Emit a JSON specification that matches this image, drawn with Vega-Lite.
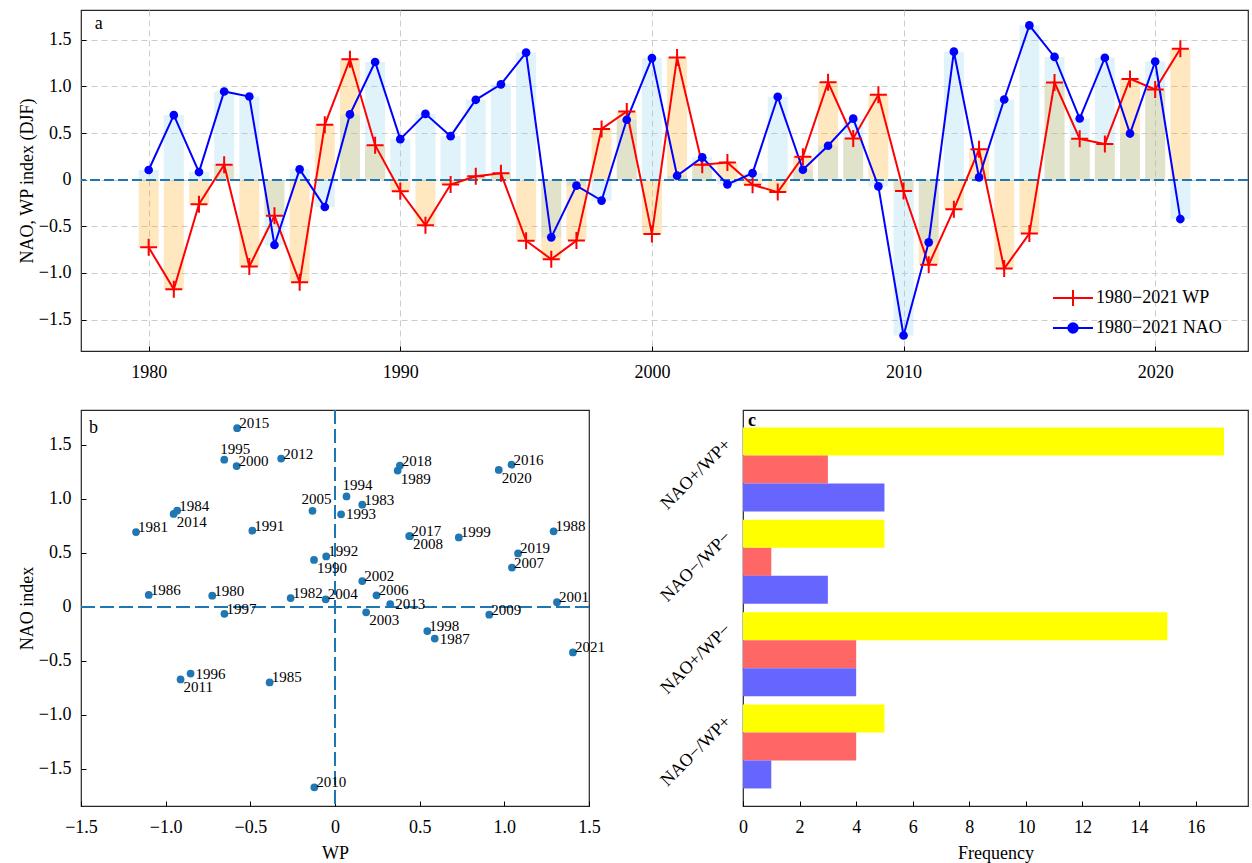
{
  "$schema": "https://vega.github.io/schema/vega-lite/v6.json",
  "background": "white",
  "padding": {"left": 17, "top": 9, "right": 0, "bottom": 0},
  "bounds": "flush",
  "spacing": 59,
  "resolve": {"scale": {"color": "independent"}, "legend": {"color": "independent"}},
  "config": {
    "font": "Liberation Serif",
    "view": {"stroke": "#262626", "strokeWidth": 1.2},
    "axis": {
      "domain": false, "grid": false, "tickSize": -5, "tickColor": "#000", "tickWidth": 1,
      "labelColor": "#000", "labelFontSize": 18, "titleFontSize": 18, "titleFontWeight": "normal",
      "titleColor": "#000", "labelPadding": 17, "labelFlush": false, "labelOverlap": false
    },
    "axisY": {"labelPadding": 15, "titlePadding": 2}
  },
  "datasets": {
    "idx": [
      {"year": 1980, "wp": -0.725, "nao": 0.104, "side": "r"},
      {"year": 1981, "wp": -1.175, "nao": 0.693, "side": "r"},
      {"year": 1982, "wp": -0.262, "nao": 0.082, "side": "r"},
      {"year": 1983, "wp": 0.161, "nao": 0.946, "side": "r"},
      {"year": 1984, "wp": -0.932, "nao": 0.892, "side": "r"},
      {"year": 1985, "wp": -0.386, "nao": -0.700, "side": "r"},
      {"year": 1986, "wp": -1.100, "nao": 0.111, "side": "r"},
      {"year": 1987, "wp": 0.589, "nao": -0.293, "side": "m"},
      {"year": 1988, "wp": 1.291, "nao": 0.700, "side": "r"},
      {"year": 1989, "wp": 0.370, "nao": 1.262, "side": "b"},
      {"year": 1990, "wp": -0.124, "nao": 0.435, "side": "b"},
      {"year": 1991, "wp": -0.488, "nao": 0.706, "side": "r"},
      {"year": 1992, "wp": -0.052, "nao": 0.467, "side": "r"},
      {"year": 1993, "wp": 0.036, "nao": 0.857, "side": "m"},
      {"year": 1994, "wp": 0.068, "nao": 1.023, "side": "a"},
      {"year": 1995, "wp": -0.654, "nao": 1.363, "side": "a"},
      {"year": 1996, "wp": -0.853, "nao": -0.618, "side": "m"},
      {"year": 1997, "wp": -0.653, "nao": -0.064, "side": "r"},
      {"year": 1998, "wp": 0.545, "nao": -0.224, "side": "r"},
      {"year": 1999, "wp": 0.731, "nao": 0.643, "side": "r"},
      {"year": 2000, "wp": -0.581, "nao": 1.304, "side": "r"},
      {"year": 2001, "wp": 1.311, "nao": 0.043, "side": "r"},
      {"year": 2002, "wp": 0.161, "nao": 0.239, "side": "r"},
      {"year": 2003, "wp": 0.184, "nao": -0.050, "side": "b"},
      {"year": 2004, "wp": -0.055, "nao": 0.070, "side": "r"},
      {"year": 2005, "wp": -0.133, "nao": 0.889, "side": "al"},
      {"year": 2006, "wp": 0.245, "nao": 0.107, "side": "r"},
      {"year": 2007, "wp": 1.045, "nao": 0.364, "side": "r"},
      {"year": 2008, "wp": 0.443, "nao": 0.655, "side": "b"},
      {"year": 2009, "wp": 0.911, "nao": -0.072, "side": "r"},
      {"year": 2010, "wp": -0.122, "nao": -1.671, "side": "r"},
      {"year": 2011, "wp": -0.912, "nao": -0.672, "side": "b"},
      {"year": 2012, "wp": -0.318, "nao": 1.373, "side": "r"},
      {"year": 2013, "wp": 0.326, "nao": 0.025, "side": "m"},
      {"year": 2014, "wp": -0.953, "nao": 0.860, "side": "b"},
      {"year": 2015, "wp": -0.578, "nao": 1.655, "side": "r"},
      {"year": 2016, "wp": 1.042, "nao": 1.317, "side": "r"},
      {"year": 2017, "wp": 0.438, "nao": 0.656, "side": "r"},
      {"year": 2018, "wp": 0.383, "nao": 1.308, "side": "r"},
      {"year": 2019, "wp": 1.081, "nao": 0.495, "side": "r"},
      {"year": 2020, "wp": 0.967, "nao": 1.268, "side": "b"},
      {"year": 2021, "wp": 1.405, "nao": -0.422, "side": "r"}
    ],
    "freq": [
      {"cat": "NAO+/WP+", "grp": "g1", "freq": 17},
      {"cat": "NAO+/WP+", "grp": "g2", "freq": 3},
      {"cat": "NAO+/WP+", "grp": "g3", "freq": 5},
      {"cat": "NAO−/WP−", "grp": "g1", "freq": 5},
      {"cat": "NAO−/WP−", "grp": "g2", "freq": 1},
      {"cat": "NAO−/WP−", "grp": "g3", "freq": 3},
      {"cat": "NAO+/WP−", "grp": "g1", "freq": 15},
      {"cat": "NAO+/WP−", "grp": "g2", "freq": 4},
      {"cat": "NAO+/WP−", "grp": "g3", "freq": 4},
      {"cat": "NAO−/WP+", "grp": "g1", "freq": 5},
      {"cat": "NAO−/WP+", "grp": "g2", "freq": 4},
      {"cat": "NAO−/WP+", "grp": "g3", "freq": 1}
    ],
    "one": [{"panel": "label"}]
  },
  "vconcat": [
    {
      "width": 1167,
      "height": 341,
      "data": {"name": "idx"},
      "layer": [
        {
          "mark": {"type": "bar", "orient": "vertical", "size": 20, "color": "#ffa500", "opacity": 0.25},
          "encoding": {
            "x": {"field": "year", "type": "quantitative", "title": null,
                  "scale": {"domain": [1977.51, 2023.49], "nice": false, "zero": false},
                  "axis": {"values": [1980, 1990, 2000, 2010, 2020], "format": "d", "grid": true, "gridDash": [6, 4], "gridColor": "#cccccc"}},
            "y": {"field": "wp", "type": "quantitative", "title": "NAO, WP index (DJF)",
                  "scale": {"domain": [-1.837, 1.82], "nice": false},
                  "axis": {"values": [-1.5, -1, -0.5, 0, 0.5, 1, 1.5], "labelExpr": "datum.value == 0 ? '0' : format(datum.value, '.1f')", "grid": true, "gridDash": [6, 4], "gridColor": "#cccccc"}}
          }
        },
        {
          "mark": {"type": "bar", "orient": "vertical", "size": 20, "color": "#87ceeb", "opacity": 0.25},
          "encoding": {
            "x": {"field": "year", "type": "quantitative", "title": null},
            "y": {"field": "nao", "type": "quantitative", "title": "NAO, WP index (DJF)"}
          }
        },
        {
          "mark": {"type": "rule", "color": "#1f77b4", "strokeDash": [10, 4], "strokeWidth": 1.3},
          "encoding": {"y": {"datum": 0}}
        },
        {
          "transform": [{"fold": ["wp", "nao"], "as": ["series", "value"]}],
          "mark": {"type": "line", "strokeWidth": 2},
          "encoding": {
            "x": {"field": "year", "type": "quantitative", "title": null},
            "y": {"field": "value", "type": "quantitative", "title": "NAO, WP index (DJF)"},
            "color": {
              "field": "series", "type": "nominal",
              "scale": {"domain": ["wp", "nao"], "range": ["#ff0000", "#0000ff"]},
              "legend": {
                "orient": "none", "legendX": 981, "legendY": 277, "title": null, "padding": 0,
                "labelExpr": "'1980−2021 ' + (datum.value == 'wp' ? 'WP' : 'NAO')",
                "labelFontSize": 18, "labelColor": "#000", "symbolSize": 400, "rowPadding": 7, "labelOffset": 12,
                "encode": {
                  "symbols": {
                    "update": {
                      "shape": {"signal": "datum.value === 'wp' ? 'M-2,0L2,0M0,-0.8L0,0.8' : 'M-2,0L2,0M0.47,0A0.47,0.47 0 1,1 -0.47,0A0.47,0.47 0 1,1 0.47,0Z'"},
                      "fill": {"signal": "datum.value === 'wp' ? 'transparent' : '#0000ff'"},
                      "stroke": {"signal": "datum.value === 'wp' ? '#ff0000' : '#0000ff'"},
                      "strokeWidth": {"value": 2},
                      "opacity": {"value": 1}
                    }
                  }
                }
              }
            }
          }
        },
        {
          "mark": {"type": "point", "shape": "M-1,0L1,0M0,-1L0,1", "size": 289, "filled": false, "color": "#ff0000", "strokeWidth": 2, "opacity": 1},
          "encoding": {
            "x": {"field": "year", "type": "quantitative", "title": null},
            "y": {"field": "wp", "type": "quantitative", "title": "NAO, WP index (DJF)"}
          }
        },
        {
          "mark": {"type": "point", "shape": "circle", "size": 75, "filled": true, "color": "#0000ff", "opacity": 1},
          "encoding": {
            "x": {"field": "year", "type": "quantitative", "title": null},
            "y": {"field": "nao", "type": "quantitative", "title": "NAO, WP index (DJF)"}
          }
        },
        {
          "data": {"name": "one"},
          "mark": {"type": "text", "text": "a", "align": "left", "baseline": "alphabetic", "fontSize": 18, "color": "#000"},
          "encoding": {
            "x": {"datum": 1977.86, "type": "quantitative"},
            "y": {"datum": 1.611, "type": "quantitative"}
          }
        }
      ]
    },
    {
      "hconcat": [
        {
          "width": 508,
          "height": 396,
          "data": {"name": "idx"},
          "layer": [
            {
              "mark": {"type": "rule", "color": "#1f77b4", "strokeDash": [14, 5], "strokeWidth": 1.5},
              "encoding": {"x": {"datum": 0, "type": "quantitative"}}
            },
            {
              "mark": {"type": "rule", "color": "#1f77b4", "strokeDash": [14, 5], "strokeWidth": 1.5},
              "encoding": {"y": {"datum": 0, "type": "quantitative"}}
            },
            {
              "mark": {"type": "circle", "size": 60, "color": "#1f77b4", "opacity": 1},
              "encoding": {
                "x": {"field": "wp", "type": "quantitative", "title": "WP",
                      "scale": {"domain": [-1.5, 1.5], "nice": false, "zero": false},
                      "axis": {"values": [-1.5, -1, -0.5, 0, 0.5, 1, 1.5], "labelExpr": "datum.value == 0 ? '0' : format(datum.value, '.1f')", "titlePadding": 8}},
                "y": {"field": "nao", "type": "quantitative", "title": "NAO index",
                      "scale": {"domain": [-1.844, 1.823], "nice": false, "zero": false},
                      "axis": {"values": [-1.5, -1, -0.5, 0, 0.5, 1, 1.5], "labelExpr": "datum.value == 0 ? '0' : format(datum.value, '.1f')"}}
              }
            },
            {
              "transform": [{"filter": "datum.side == 'r'"}],
              "mark": {"type": "text", "align": "left", "baseline": "alphabetic", "dx": 2, "dy": 0, "fontSize": 15, "color": "#000"},
              "encoding": {"x": {"field": "wp", "type": "quantitative", "title": "WP"}, "y": {"field": "nao", "type": "quantitative", "title": "NAO index"}, "text": {"field": "year", "type": "nominal"}}
            },
            {
              "transform": [{"filter": "datum.side == 'b'"}],
              "mark": {"type": "text", "align": "left", "baseline": "alphabetic", "dx": 3, "dy": 13, "fontSize": 15, "color": "#000"},
              "encoding": {"x": {"field": "wp", "type": "quantitative", "title": "WP"}, "y": {"field": "nao", "type": "quantitative", "title": "NAO index"}, "text": {"field": "year", "type": "nominal"}}
            },
            {
              "transform": [{"filter": "datum.side == 'a'"}],
              "mark": {"type": "text", "align": "left", "baseline": "alphabetic", "dx": -4, "dy": -6, "fontSize": 15, "color": "#000"},
              "encoding": {"x": {"field": "wp", "type": "quantitative", "title": "WP"}, "y": {"field": "nao", "type": "quantitative", "title": "NAO index"}, "text": {"field": "year", "type": "nominal"}}
            },
            {
              "transform": [{"filter": "datum.side == 'al'"}],
              "mark": {"type": "text", "align": "left", "baseline": "alphabetic", "dx": -11, "dy": -7, "fontSize": 15, "color": "#000"},
              "encoding": {"x": {"field": "wp", "type": "quantitative", "title": "WP"}, "y": {"field": "nao", "type": "quantitative", "title": "NAO index"}, "text": {"field": "year", "type": "nominal"}}
            },
            {
              "transform": [{"filter": "datum.side == 'm'"}],
              "mark": {"type": "text", "align": "left", "baseline": "alphabetic", "dx": 5, "dy": 5, "fontSize": 15, "color": "#000"},
              "encoding": {"x": {"field": "wp", "type": "quantitative", "title": "WP"}, "y": {"field": "nao", "type": "quantitative", "title": "NAO index"}, "text": {"field": "year", "type": "nominal"}}
            },
            {
              "data": {"name": "one"},
              "mark": {"type": "text", "text": "b", "align": "left", "baseline": "alphabetic", "fontSize": 18, "color": "#000"},
              "encoding": {
                "x": {"datum": -1.453, "type": "quantitative"},
                "y": {"datum": 1.613, "type": "quantitative"}
              }
            }
          ]
        },
        {
          "width": 505,
          "height": 396,
          "layer": [
            {
              "data": {"name": "freq"},
              "mark": {"type": "bar"},
              "encoding": {
                "y": {"field": "cat", "type": "nominal", "title": null,
                      "sort": ["NAO+/WP+", "NAO−/WP−", "NAO+/WP−", "NAO−/WP+"],
                      "scale": {"paddingInner": 0.09, "paddingOuter": 0.19},
                      "axis": {"labelAngle": -45, "labelAlign": "right", "labelBaseline": "middle", "tickOffset": -28, "labelPadding": 20, "grid": false}},
                "yOffset": {"field": "grp", "type": "nominal", "sort": ["g1", "g2", "g3"], "scale": {"paddingInner": 0, "paddingOuter": 0}},
                "x": {"field": "freq", "type": "quantitative", "title": "Frequency",
                      "scale": {"domain": [0, 17.85], "nice": false},
                      "axis": {"values": [0, 2, 4, 6, 8, 10, 12, 14, 16], "titlePadding": 8}},
                "color": {"field": "grp", "type": "nominal", "scale": {"domain": ["g1", "g2", "g3"], "range": ["#ffff00", "#ff6666", "#6666ff"]}, "legend": null}
              }
            },
            {
              "data": {"name": "one"},
              "mark": {"type": "text", "text": "c", "align": "left", "baseline": "alphabetic", "fontSize": 18, "fontWeight": "bold", "color": "#000", "dy": -44},
              "encoding": {
                "x": {"datum": 0.177, "type": "quantitative"},
                "y": {"datum": "NAO+/WP+", "type": "nominal"}
              }
            }
          ]
        }
      ],
      "spacing": 154,
      "bounds": "flush",
      "resolve": {"scale": {"color": "independent"}, "legend": {"color": "independent"}}
    }
  ]
}
